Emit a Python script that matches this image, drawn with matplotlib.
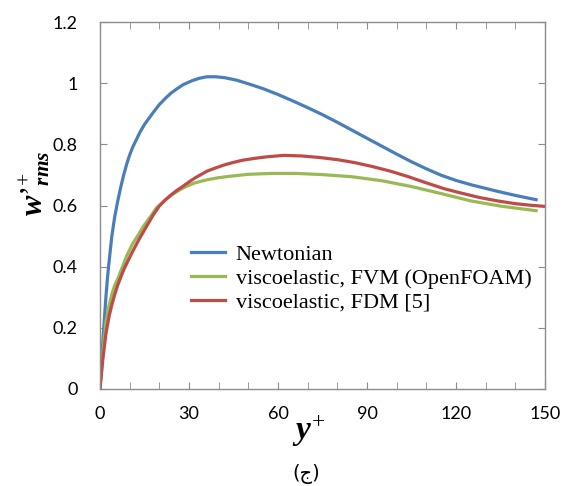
import matplotlib
matplotlib.use("Agg")
import matplotlib.pyplot as plt
from matplotlib.ticker import MultipleLocator

# data
yp_newt = [0, 0.5, 1, 1.5, 2, 2.5, 3, 4, 5, 6, 7, 8, 9, 10, 11, 12, 13.5, 15, 16.5, 18,
           20, 22, 24, 26, 28, 31, 33.5, 36, 39, 42, 46, 50, 55, 60, 65, 70, 75, 80,
           85, 90, 95, 100, 105, 110, 115, 120, 125, 130, 135, 140, 147]
w_newt = [0.0, 0.08, 0.16, 0.23, 0.30, 0.36, 0.41, 0.50, 0.565, 0.615, 0.66, 0.70, 0.735,
          0.765, 0.79, 0.81, 0.84, 0.865, 0.885, 0.905, 0.93, 0.95, 0.968, 0.982, 0.995,
          1.008, 1.016, 1.021, 1.021, 1.018, 1.01, 0.998, 0.982, 0.963, 0.942, 0.92,
          0.897, 0.872, 0.846, 0.82, 0.794, 0.768, 0.743, 0.72, 0.699, 0.682, 0.668,
          0.656, 0.644, 0.633, 0.619]

yp_fvm = [0, 1, 2, 3, 4, 5, 6, 7, 8, 9, 10, 11, 12, 13, 14.5, 16, 17.5, 19, 20.5, 22,
          23.5, 25, 27, 29, 32, 36, 40, 45, 50, 58, 66, 75, 85, 95, 105, 115, 125, 135,
          147]
w_fvm = [0.0, 0.12, 0.22, 0.27, 0.31, 0.34, 0.36, 0.385, 0.41, 0.435, 0.455, 0.475, 0.49,
         0.505, 0.53, 0.55, 0.57, 0.592, 0.605, 0.618, 0.63, 0.64, 0.652, 0.662, 0.674,
         0.684, 0.691, 0.697, 0.702, 0.705, 0.705, 0.701, 0.694, 0.681, 0.662, 0.639,
         0.615, 0.598, 0.583]

yp_fdm = [0, 1, 2, 3, 4, 5, 6, 7, 8, 9, 10.5, 12, 13.5, 15, 16.5, 18, 20, 22, 24, 26,
          28, 30, 32, 34, 36, 39, 42, 45, 48, 52, 56, 62, 68, 74, 80, 86, 92, 98, 104,
          110, 116, 122, 128, 134, 140, 145, 150]
w_fdm = [0.0, 0.10, 0.18, 0.235, 0.275, 0.31, 0.34, 0.365, 0.39, 0.41, 0.44, 0.468, 0.495,
         0.52, 0.545, 0.57, 0.598, 0.618, 0.635, 0.65, 0.663, 0.677, 0.69, 0.701, 0.712,
         0.723, 0.733, 0.741, 0.748, 0.754, 0.759, 0.764, 0.762, 0.757, 0.75, 0.74,
         0.727, 0.712, 0.694, 0.674, 0.655, 0.64, 0.626, 0.615, 0.606, 0.601, 0.597]

plt.rcParams['mathtext.fontset'] = 'custom'
plt.rcParams['mathtext.it'] = 'Liberation Serif:italic:bold'
plt.rcParams['mathtext.rm'] = 'Liberation Serif'
plt.rcParams['mathtext.bf'] = 'Liberation Serif:bold'

fig = plt.figure(figsize=(5.68, 4.86), dpi=100)
ax = fig.add_axes([0.176, 0.1996, 0.7835, 0.7551])

ax.plot(yp_newt, w_newt, color='#4a7ebb', lw=2.3, label='Newtonian')
ax.plot(yp_fvm, w_fvm, color='#98b954', lw=2.3, label='viscoelastic, FVM (OpenFOAM)')
ax.plot(yp_fdm, w_fdm, color='#be4b48', lw=2.3, label='viscoelastic, FDM [5]')

ax.set_xlim(0, 150)
ax.set_ylim(0, 1.2)
ax.xaxis.set_major_locator(MultipleLocator(30))
ax.xaxis.set_minor_locator(MultipleLocator(10))
ax.set_yticks([0, 0.2, 0.4, 0.6, 0.8, 1.0, 1.2])
ax.set_yticklabels(['0', '0.2', '0.4', '0.6', '0.8', '1', '1.2'])

for s in ax.spines.values():
    s.set_color('#8c8c8c')
    s.set_linewidth(1.0)
ax.tick_params(which='both', direction='in', top=True, right=True, length=5,
               color='#8c8c8c', labelsize=13)
ax.tick_params(axis='x', pad=12)
ax.tick_params(axis='y', pad=16)
for lab in ax.get_xticklabels() + ax.get_yticklabels():
    lab.set_family('Lato')

ax.text(-0.146, 0.56, "$w\u2019^{+}_{rms}$", transform=ax.transAxes, fontsize=22,
        rotation=90, ha='center', va='center')
ax.text(0.47, -0.115, r"$y^{+}$", transform=ax.transAxes, fontsize=24,
        ha='center', va='center')
fig.text(0.54, 0.005, "(ج)", fontsize=14, family=['DejaVu Sans'], ha='center',
         va='bottom')

ax.legend(loc='upper left', bbox_to_anchor=(0.18, 0.425), frameon=False,
          prop={'family': 'Liberation Serif', 'size': 16}, handlelength=1.5,
          handletextpad=0.5, labelspacing=0.15, borderpad=0)

fig.savefig('out.png', dpi=100)
